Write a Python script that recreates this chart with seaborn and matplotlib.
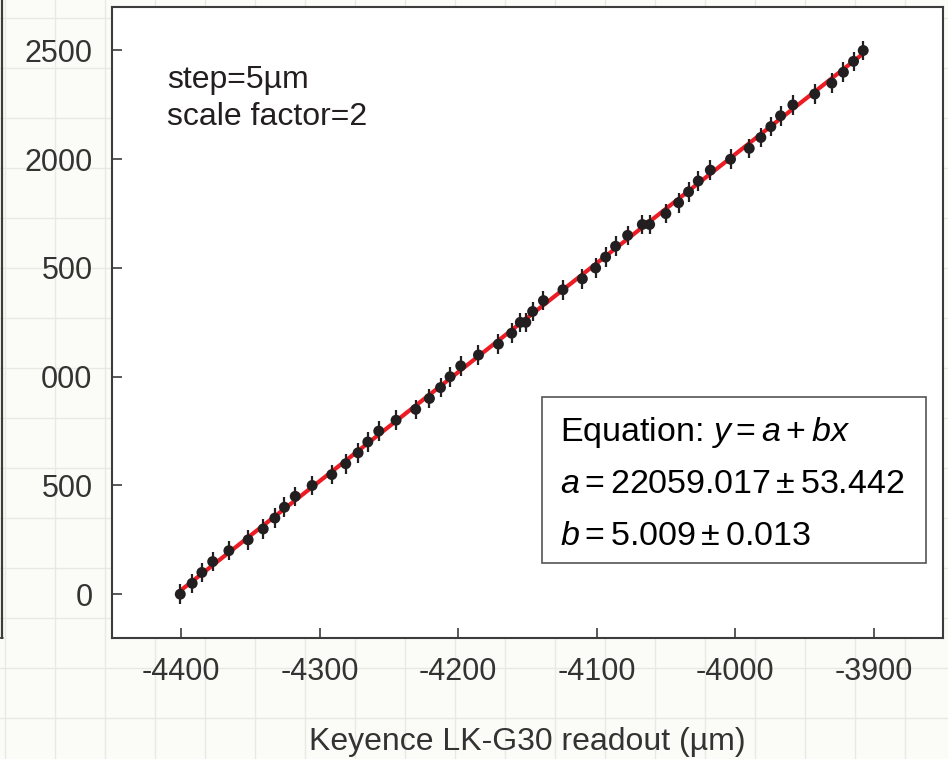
import numpy as np
import pandas as pd
import matplotlib
matplotlib.use("Agg")
import matplotlib.pyplot as plt
import seaborn as sns
from matplotlib.patches import Rectangle

# ---------------- data ----------------
readout_um = [-4400.7, -4392.1, -4385.1, -4377.3, -4365.6, -4351.7, -4340.8, -4332.4,
              -4325.5, -4317.7, -4305.5, -4291.3, -4281.2, -4272.3, -4265.3, -4257.4,
              -4244.9, -4230.7, -4220.8, -4212.8, -4205.9, -4198.2, -4185.4, -4171.0,
              -4161.4, -4155.2, -4151.2, -4146.3, -4138.5, -4124.4, -4110.4, -4100.8,
              -4093.6, -4086.4, -4077.7, -4067.1, -4061.8, -4050.1, -4040.9, -4033.7,
              -4026.7, -4018.0, -4003.4, -3989.9, -3981.5, -3974.3, -3967.3, -3958.4,
              -3942.6, -3930.3, -3921.9, -3914.6, -3907.6]
signal = [0, 50, 100, 150, 200, 250, 300, 350,
          400, 450, 500, 550, 600, 650, 700, 750,
          800, 850, 900, 950, 1000, 1050, 1100, 1150,
          1200, 1250, 1250, 1300, 1350, 1400, 1450, 1500,
          1550, 1600, 1650, 1700, 1700, 1750, 1800, 1850,
          1900, 1950, 2000, 2050, 2100, 2150, 2200, 2250,
          2300, 2350, 2400, 2450, 2500]
signal_err = 45
fit_a = 22059.017
fit_a_err = 53.442
fit_b = 5.009
fit_b_err = 0.013
x_ticks = [-4400, -4300, -4200, -4100, -4000, -3900]
x_tick_labels = ["-4400", "-4300", "-4200", "-4100", "-4000", "-3900"]
y_ticks = [0, 500, 1000, 1500, 2000, 2500]
y_tick_labels = ["0", "500", "000", "500", "2000", "2500"]
x_label = "Keyence LK-G30 readout (\u00b5m)"
note_lines = ["step=5\u00b5m", "scale factor=2"]

df = pd.DataFrame({"readout": readout_um, "signal": signal})
fit_x = np.array([min(readout_um), max(readout_um)])
fit_df = pd.DataFrame({"readout": fit_x, "signal": fit_a + fit_b * fit_x})

# ---------------- style ----------------
sns.set_theme(style="ticks")
plt.rcParams["font.family"] = ["Liberation Sans", "DejaVu Sans"]
plt.rcParams["mathtext.fontset"] = "custom"
plt.rcParams["mathtext.rm"] = "Liberation Sans"
plt.rcParams["mathtext.it"] = "Liberation Sans:italic"

W, H = 948, 759
fig = plt.figure(figsize=(W / 100, H / 100), dpi=100, facecolor="#fbfbf7")

# graph-paper background
bg = fig.add_axes([0, 0, 1, 1], zorder=-10)
bg.set_xlim(0, W)
bg.set_ylim(H, 0)
bg.axis("off")
for xv in range(5, W, 50):
    bg.axvline(xv, color="#e9e9e3", lw=1.0)
for yv in range(18, H, 50):
    bg.axhline(yv, color="#e9e9e3", lw=1.0)
bg.plot([2.5, 2.5], [0, 638], color="#3c3c3c", lw=1.6)
bg.plot([0, 3], [638, 638], color="#3c3c3c", lw=1.2)

ax = fig.add_axes([112 / W, 1 - 637.7 / H, 831 / W, 630.7 / H], zorder=1)
ax.set_facecolor("white")

sns.lineplot(data=fit_df, x="readout", y="signal", ax=ax, color="#ed1c24",
             lw=3.0, zorder=2)
ax.errorbar(df["readout"], df["signal"], yerr=signal_err, fmt="none",
            ecolor="#231f20", elinewidth=1.6, capsize=0, zorder=3)
sns.scatterplot(data=df, x="readout", y="signal", ax=ax, color="#231f20",
                s=62, edgecolor="none", linewidth=0, zorder=4)

ax.set_xlim(-4450, -3850)
ax.set_ylim(-200, 2700)
ax.set_xticks(x_ticks)
ax.set_xticklabels(x_tick_labels)
ax.set_yticks(y_ticks)
ax.set_yticklabels(y_tick_labels)
ax.tick_params(axis="both", direction="in", length=7, width=1.2,
               colors="#3c3c3c", labelsize=22, labelcolor="#333333")
ax.tick_params(axis="y", pad=14)
ax.tick_params(axis="x", pad=14)
for sp in ax.spines.values():
    sp.set_visible(True)
    sp.set_color("#3c3c3c")
    sp.set_linewidth(1.5)
ax.set_xlabel(x_label, fontsize=23, color="#333333", labelpad=29)
ax.set_ylabel("")

# notes
ax.text(0.066, 0.871, note_lines[0], transform=ax.transAxes, fontsize=23,
        color="#231f20", va="baseline", ha="left")
ax.text(0.066, 0.8128, note_lines[1], transform=ax.transAxes, fontsize=23,
        color="#231f20", va="baseline", ha="left")

# equation box
ax.add_patch(Rectangle((0.517, 0.119), 0.463, 0.262, transform=ax.transAxes,
                       facecolor="white", edgecolor="#555555", lw=1.2, zorder=5))
eq_lines = [r"Equation: $y = a + bx$",
            r"$a = %.3f \pm %.3f$" % (fit_a, fit_a_err),
            r"$b = %.3f \pm %.3f$" % (fit_b, fit_b_err)]
for txt, yb in zip(eq_lines, [0.312, 0.230, 0.147]):
    ax.text(0.539, yb, txt, transform=ax.transAxes, fontsize=24.5,
            color="black", va="baseline", ha="left", zorder=6)

fig.savefig("out.png", dpi=100, facecolor=fig.get_facecolor())
